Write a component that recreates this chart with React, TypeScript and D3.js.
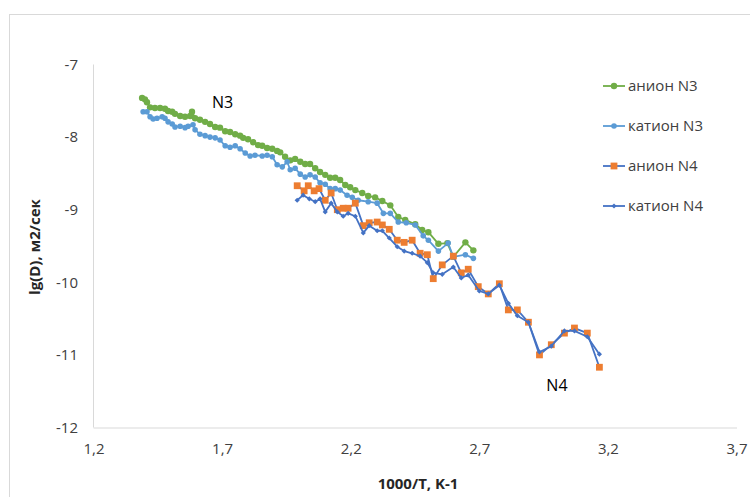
import React from "react";
import * as d3 from "d3";

type Pt = [number, number];

const anionN3: Pt[] = [
  [1.387, -7.46], [1.398, -7.48], [1.406, -7.52], [1.418, -7.59], [1.437, -7.6], [1.457, -7.6],
  [1.476, -7.61], [1.488, -7.64], [1.504, -7.65], [1.515, -7.68], [1.535, -7.71], [1.554, -7.72],
  [1.574, -7.71], [1.581, -7.65], [1.593, -7.74], [1.612, -7.76], [1.632, -7.79], [1.651, -7.82],
  [1.671, -7.86], [1.69, -7.87], [1.71, -7.92], [1.729, -7.93], [1.749, -7.96], [1.768, -7.98],
  [1.78, -8.01], [1.799, -8.03], [1.819, -8.07], [1.838, -8.11], [1.854, -8.12], [1.873, -8.15],
  [1.893, -8.16], [1.912, -8.19], [1.924, -8.21], [1.943, -8.27], [1.963, -8.32], [1.982, -8.3],
  [2.002, -8.34], [2.021, -8.37], [2.04, -8.37], [2.06, -8.43], [2.079, -8.48], [2.099, -8.52],
  [2.118, -8.56], [2.138, -8.56], [2.157, -8.59], [2.177, -8.66], [2.196, -8.69], [2.216, -8.73],
  [2.243, -8.77], [2.266, -8.81], [2.293, -8.83], [2.321, -8.88], [2.352, -8.94], [2.383, -9.1],
  [2.41, -9.14], [2.449, -9.2], [2.476, -9.28], [2.5, -9.31], [2.539, -9.47], [2.574, -9.46],
  [2.597, -9.65], [2.644, -9.45], [2.675, -9.56],
];

const cationN3: Pt[] = [
  [1.391, -7.65], [1.406, -7.65], [1.418, -7.72], [1.43, -7.75], [1.445, -7.74], [1.465, -7.72],
  [1.476, -7.74], [1.488, -7.79], [1.504, -7.82], [1.515, -7.86], [1.535, -7.85], [1.554, -7.87],
  [1.566, -7.85], [1.585, -7.83], [1.593, -7.9], [1.612, -7.96], [1.632, -7.98], [1.651, -8.0],
  [1.671, -8.01], [1.69, -8.04], [1.71, -8.12], [1.729, -8.14], [1.749, -8.12], [1.768, -8.16],
  [1.788, -8.22], [1.807, -8.26], [1.826, -8.25], [1.854, -8.26], [1.873, -8.25], [1.893, -8.27],
  [1.912, -8.38], [1.932, -8.41], [1.951, -8.34], [1.963, -8.45], [1.982, -8.43], [2.002, -8.51],
  [2.021, -8.55], [2.04, -8.52], [2.06, -8.55], [2.079, -8.63], [2.099, -8.65], [2.118, -8.71],
  [2.138, -8.71], [2.157, -8.73], [2.184, -8.8], [2.204, -8.83], [2.227, -8.87], [2.266, -8.89],
  [2.301, -8.91], [2.325, -9.05], [2.352, -9.05], [2.383, -9.17], [2.414, -9.18], [2.449, -9.21],
  [2.48, -9.36], [2.5, -9.42], [2.539, -9.57], [2.577, -9.46], [2.597, -9.65], [2.644, -9.62],
  [2.675, -9.67],
];

const anionN4: Pt[] = [
  [1.99, -8.67], [2.017, -8.74], [2.033, -8.67], [2.056, -8.74], [2.075, -8.71], [2.099, -8.87],
  [2.122, -8.77], [2.146, -9.0], [2.169, -8.98], [2.188, -8.98], [2.216, -8.91], [2.247, -9.22],
  [2.27, -9.18], [2.301, -9.17], [2.321, -9.21], [2.348, -9.27], [2.379, -9.42], [2.406, -9.45],
  [2.437, -9.42], [2.468, -9.6], [2.496, -9.62], [2.519, -9.95], [2.554, -9.76], [2.597, -9.64],
  [2.628, -9.87], [2.655, -9.82], [2.694, -10.06], [2.733, -10.16], [2.776, -10.02], [2.811, -10.38],
  [2.846, -10.38], [2.889, -10.55], [2.932, -11.0], [2.978, -10.86], [3.029, -10.7], [3.068, -10.63],
  [3.118, -10.7], [3.165, -11.17],
];

const cationN4: Pt[] = [
  [1.99, -8.87], [2.013, -8.8], [2.037, -8.85], [2.06, -8.89], [2.079, -8.85], [2.099, -9.03],
  [2.122, -8.91], [2.146, -9.03], [2.169, -9.09], [2.188, -9.05], [2.216, -9.09], [2.247, -9.32],
  [2.27, -9.22], [2.301, -9.29], [2.321, -9.29], [2.348, -9.39], [2.379, -9.51], [2.406, -9.57],
  [2.437, -9.6], [2.468, -9.64], [2.496, -9.73], [2.519, -9.87], [2.554, -9.89], [2.597, -9.79],
  [2.628, -9.94], [2.655, -9.9], [2.698, -10.12], [2.733, -10.16], [2.776, -10.04], [2.811, -10.29],
  [2.846, -10.46], [2.889, -10.55], [2.932, -10.96], [2.978, -10.88], [3.029, -10.67], [3.068, -10.67],
  [3.118, -10.75], [3.165, -10.99],
];

const xTicks = [1.2, 1.7, 2.2, 2.7, 3.2, 3.7];
const yTicks = [-7, -8, -9, -10, -11, -12];
const seriesNames = ["анион N3", "катион N3", "анион N4", "катион N4"];
const xTitle = "1000/T, K-1";
const yTitle = "lg(D), м2/сек";
const annotations: { text: string; x: number; y: number }[] = [
  { text: "N3", x: 1.7, y: -7.52 },
  { text: "N4", x: 3.0, y: -11.42 },
];

const W = 750;
const H = 497;
const FONT = "'Open Sans', 'Noto Sans', sans-serif";

export default function App() {
  const x = d3.scaleLinear().domain([1.2, 3.7]).range([94, 737]);
  const y = d3.scaleLinear().domain([-7, -12]).range([64.5, 427.5]);
  const line = d3
    .line<Pt>()
    .x((d) => x(d[0]))
    .y((d) => y(d[1]));

  const series = [
    { name: seriesNames[0], data: anionN3, line: "#70AD47", marker: "circle", mcol: "#70AD47", r: 3.2 },
    { name: seriesNames[1], data: cationN3, line: "#5B9BD5", marker: "circle", mcol: "#5B9BD5", r: 2.8 },
    { name: seriesNames[2], data: anionN4, line: "#4472C4", marker: "square", mcol: "#ED7D31", r: 3.4 },
    { name: seriesNames[3], data: cationN4, line: "#4472C4", marker: "diamond", mcol: "#4472C4", r: 2.6 },
  ];

  const drawMarker = (kind: string, cx: number, cy: number, r: number, col: string, key: string) => {
    if (kind === "circle") return <circle key={key} cx={cx} cy={cy} r={r} fill={col} />;
    if (kind === "square")
      return <rect key={key} x={cx - r} y={cy - r} width={2 * r} height={2 * r} fill={col} />;
    return (
      <path
        key={key}
        d={`M${cx},${cy - r}L${cx + r},${cy}L${cx},${cy + r}L${cx - r},${cy}Z`}
        fill={col}
      />
    );
  };

  const legendY = [86, 126, 166, 206];

  return (
    <div style={{ position: "absolute", left: 0, top: 0 }}>
      <svg width={W} height={H} style={{ display: "block", background: "#fff" }}>
        <rect x={9.5} y={14.5} width={W + 20} height={H + 20} fill="#fff" stroke="#d9d9d9" strokeWidth={1} />
        {/* axes */}
        <line x1={93.5} x2={93.5} y1={y(-7)} y2={y(-12)} stroke="#d9d9d9" strokeWidth={1} />
        <line x1={93.5} x2={x(3.7)} y1={y(-12) + 0.5} y2={y(-12) + 0.5} stroke="#d9d9d9" strokeWidth={1} />
        {yTicks.map((t) => (
          <text key={"y" + t} x={78} y={y(t)} dy="0.35em" textAnchor="end" fontFamily={FONT} fontSize={15} fill="#404040">
            {String(t)}
          </text>
        ))}
        {xTicks.map((t) => (
          <text key={"x" + t} x={x(t)} y={454} textAnchor="middle" fontFamily={FONT} fontSize={15} fill="#404040">
            {String(t).replace(".", ",")}
          </text>
        ))}
        <text x={418} y={489} textAnchor="middle" fontFamily={FONT} fontSize={15} fontWeight="bold" fill="#262626">
          {xTitle}
        </text>
        <text
          transform={`translate(40,${247}) rotate(-90)`}
          textAnchor="middle"
          fontFamily={FONT}
          fontSize={15}
          fontWeight="bold"
          fill="#262626"
        >
          {yTitle}
        </text>
        {/* series */}
        {series.map((s, i) => (
          <g key={"s" + i}>
            <path d={line(s.data) || ""} fill="none" stroke={s.line} strokeWidth={1.8} strokeLinejoin="round" />
            {s.data.map((d, j) => drawMarker(s.marker, x(d[0]), y(d[1]), s.r, s.mcol, `m${i}-${j}`))}
          </g>
        ))}
        {annotations.map((a) => (
          <text key={a.text} x={x(a.x)} y={y(a.y)} dy="0.35em" textAnchor="middle" fontFamily={FONT} fontSize={16} fill="#000">
            {a.text}
          </text>
        ))}
        {/* legend */}
        {series.map((s, i) => (
          <g key={"l" + i}>
            <line x1={603} x2={625} y1={legendY[i]} y2={legendY[i]} stroke={s.line} strokeWidth={1.8} />
            {drawMarker(s.marker, 614, legendY[i], s.r, s.mcol, "lm" + i)}
            <text x={628} y={legendY[i]} dy="0.35em" fontFamily={FONT} fontSize={15} fill="#404040">
              {s.name}
            </text>
          </g>
        ))}
      </svg>
    </div>
  );
}
